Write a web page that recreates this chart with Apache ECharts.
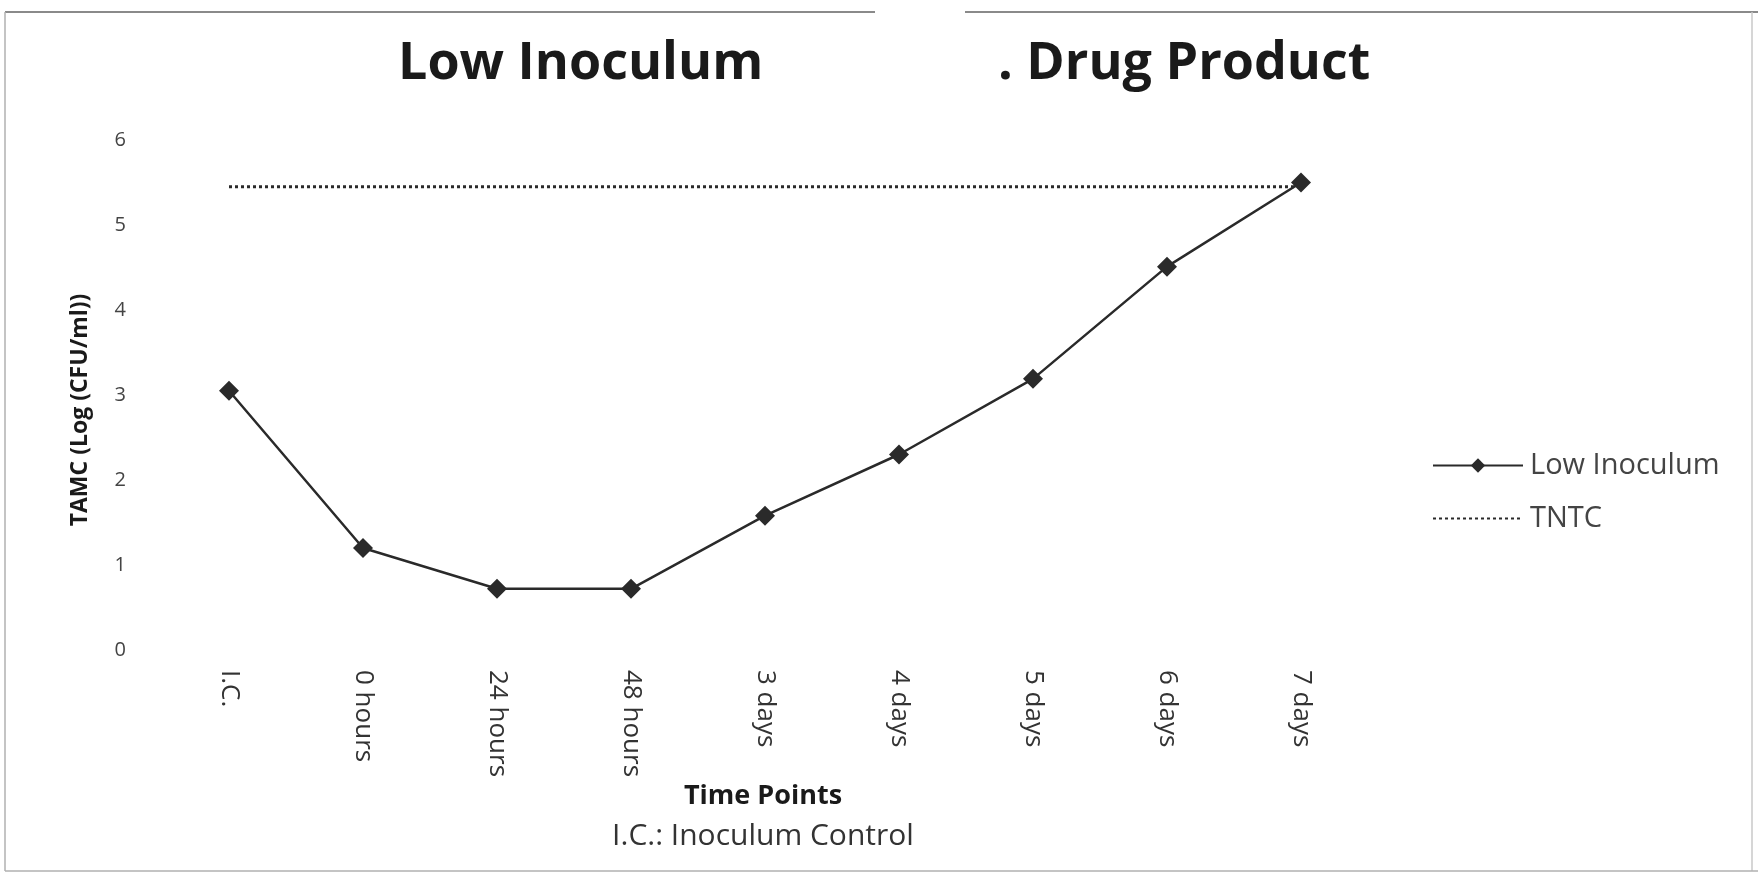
<!DOCTYPE html>
<html>
<head>
<meta charset="utf-8">
<script src="https://cdn.jsdelivr.net/npm/echarts@6/dist/echarts.min.js"></script>
<style>
html,body{margin:0;padding:0;background:#fff;}
#chart{width:1758px;height:882px;}
</style>
</head>
<body>
<div id="chart"></div>
<script>
const categories = ['I.C.', '0 hours', '24 hours', '48 hours', '3 days', '4 days', '5 days', '6 days', '7 days'];
const lowInoculum = [3.05, 1.2, 0.72, 0.72, 1.58, 2.3, 3.19, 4.51, 5.5];
const tntcValue = 5.45;
const tntc = categories.map(() => tntcValue);
const yTicks = [0, 1, 2, 3, 4, 5, 6];

const chart = echarts.init(document.getElementById('chart'), null, {renderer: 'canvas'});
const font = '"Open Sans", "Liberation Sans", sans-serif';

chart.setOption({
  backgroundColor: '#ffffff',
  animation: false,
  textStyle: {fontFamily: font},
  grid: {left: 162, right: 390, top: 140, bottom: 232, containLabel: false},
  xAxis: {
    type: 'category',
    data: categories,
    boundaryGap: true,
    axisLine: {show: false},
    axisTick: {show: false},
    splitLine: {show: false},
    axisLabel: {rotate: -90, margin: 20, fontSize: 26, color: '#333', fontFamily: font}
  },
  yAxis: {
    type: 'value',
    min: yTicks[0],
    max: yTicks[yTicks.length - 1],
    interval: 1,
    axisLine: {show: false},
    axisTick: {show: false},
    splitLine: {show: false},
    axisLabel: {margin: 36, fontSize: 20, color: '#444', fontFamily: font}
  },
  legend: {
    orient: 'vertical',
    left: 1427,
    top: 446,
    itemWidth: 90,
    itemHeight: 18,
    itemGap: 24,
    textStyle: {fontSize: 29, color: '#444', fontFamily: font, padding: [0, 0, 0, 2]},
    data: ['Low Inoculum', {name: 'TNTC', itemStyle: {opacity: 0}}]
  },
  series: [
    {
      name: 'Low Inoculum',
      type: 'line',
      data: lowInoculum,
      symbol: 'diamond',
      symbolSize: 20,
      itemStyle: {color: '#2a2a2a'},
      lineStyle: {color: '#2a2a2a', width: 2.5}
    },
    {
      name: 'TNTC',
      type: 'line',
      data: tntc,
      symbol: 'none',
      itemStyle: {color: '#2a2a2a'},
      lineStyle: {color: '#2a2a2a', width: 3, type: [3, 3]}
    }
  ],
  graphic: [
    {type: 'text', left: 398, top: 38, style: {text: 'Low Inoculum', font: 'bold 52px ' + font, fill: '#1a1a1a'}},
    {type: 'text', left: 998, top: 38, style: {text: '. Drug Product', font: 'bold 52px ' + font, fill: '#1a1a1a'}},
    {type: 'text', x: 80, y: 410, rotation: Math.PI / 2, style: {text: 'TAMC (Log (CFU/ml))', font: 'bold 23px ' + font, fill: '#1a1a1a', textAlign: 'center', textVerticalAlign: 'middle'}},
    {type: 'text', x: 763, y: 796, style: {text: 'Time Points', font: 'bold 27px ' + font, fill: '#1a1a1a', textAlign: 'center', textVerticalAlign: 'middle'}},
    {type: 'text', x: 763, y: 836, style: {text: 'I.C.: Inoculum Control', font: '30px ' + font, fill: '#333', textAlign: 'center', textVerticalAlign: 'middle'}},
    {type: 'line', shape: {x1: 5, y1: 12, x2: 875, y2: 12}, style: {stroke: '#8a8a8a', lineWidth: 2}},
    {type: 'line', shape: {x1: 965, y1: 12, x2: 1758, y2: 12}, style: {stroke: '#8a8a8a', lineWidth: 2}},
    {type: 'line', shape: {x1: 5, y1: 12, x2: 5, y2: 871}, style: {stroke: '#b0b0b0', lineWidth: 1.5}},
    {type: 'line', shape: {x1: 1752, y1: 12, x2: 1752, y2: 871}, style: {stroke: '#c8c8c8', lineWidth: 1.5}},
    {type: 'line', shape: {x1: 5, y1: 871, x2: 1758, y2: 871}, style: {stroke: '#b0b0b0', lineWidth: 1.5}}
  ]
});
</script>
</body>
</html>
